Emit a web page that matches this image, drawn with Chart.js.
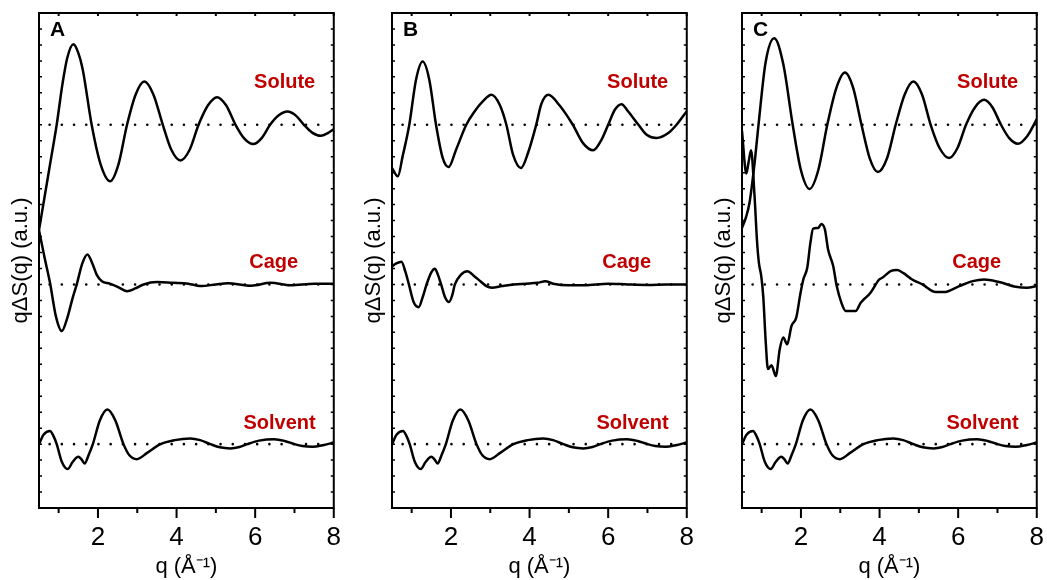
<!DOCTYPE html>
<html><head><meta charset="utf-8">
<script src="https://cdn.jsdelivr.net/npm/chart.js@4.4.1/dist/chart.umd.min.js"></script>
<style>
html,body{margin:0;padding:0;background:#fff;}
body{width:1047px;height:580px;position:relative;overflow:hidden;}
.panel{position:absolute;top:0;width:347px;height:580px;}
</style></head><body>
<div class="panel" style="left:0px"><canvas id="cA" width="347" height="580"></canvas></div>
<div class="panel" style="left:353px"><canvas id="cB" width="347" height="580"></canvas></div>
<div class="panel" style="left:703px"><canvas id="cC" width="347" height="580"></canvas></div>
<script>
// ---------- DATA ----------
const panelLetters = ['A', 'B', 'C'];
const traceNames = ['Solute', 'Cage', 'Solvent'];
const traceOffsets = [20, 10, 0];   // vertical offset of each trace (a.u.)
const xTickLabels = [2, 4, 6, 8];
const qRange = [0.5, 8];
const yRange = [-4, 27];
const baselineQ = [0.77, 7.8];

// [q, qΔS] pairs relative to each trace's dotted baseline
const soluteA = [[0.5,-6.6],[0.65,-4.4],[0.8,-2.2],[0.95,0],[1.1,2.6],[1.22,4.2],[1.375,5.04],[1.5,4.5],[1.61,3.5],[1.84,0],[2.07,-2.5],[2.31,-3.54],[2.52,-2.5],[2.74,0],[2.96,1.9],[3.18,2.71],[3.41,1.9],[3.65,0],[3.87,-1.58],[4.10,-2.23],[4.33,-1.58],[4.56,0],[4.8,1.22],[5.03,1.73],[5.26,1.22],[5.5,0],[5.72,-0.85],[5.95,-1.21],[6.16,-0.85],[6.38,0],[6.6,0.59],[6.82,0.83],[7.03,0.59],[7.24,0],[7.45,-0.49],[7.67,-0.69],[7.85,-0.52],[8.0,-0.28]];
const cageA = [[0.5,3.4],[0.64,1.7],[0.78,0.1],[0.93,-2.0],[1.08,-2.92],[1.22,-2.1],[1.35,-0.9],[1.46,0],[1.6,1.3],[1.73,1.875],[1.86,1.3],[1.97,0.6],[2.1,0.2],[2.3,0.05],[2.5,-0.15],[2.74,-0.42],[2.95,-0.25],[3.16,0],[3.5,0.15],[3.9,0.1],[4.3,0.05],[4.6,-0.1],[5.0,0],[5.3,0.07],[5.9,-0.08],[6.4,0.1],[6.9,-0.05],[7.5,0.05],[8.0,0.05]];
const soluteB = [[0.5,-2.7],[0.65,-3.23],[0.77,-1.98],[0.94,0],[1.11,2.81],[1.28,3.96],[1.45,2.81],[1.62,0],[1.79,-2.08],[1.94,-2.65],[2.13,-1.56],[2.39,0],[2.6,0.83],[2.81,1.46],[3.03,1.875],[3.24,1.25],[3.41,0],[3.58,-1.875],[3.78,-2.71],[3.96,-1.77],[4.17,0],[4.3,1.3],[4.48,1.875],[4.75,1.25],[5.1,0],[5.36,-1.15],[5.62,-1.6],[5.83,-0.94],[6.0,0],[6.17,0.94],[6.34,1.29],[6.51,0.83],[6.77,0],[6.98,-0.625],[7.23,-0.83],[7.53,-0.52],[7.74,0],[8.0,0.85]];
const cageB = [[0.5,1.14],[0.6,1.3],[0.74,1.42],[0.84,0.8],[0.93,0],[1.05,-1.1],[1.18,-1.42],[1.28,-0.8],[1.38,0],[1.5,0.75],[1.59,0.98],[1.67,0.6],[1.75,0],[1.85,-0.8],[1.95,-1.1],[2.03,-0.7],[2.1,0],[2.25,0.6],[2.42,0.83],[2.6,0.5],[2.75,0.2],[2.9,-0.1],[3.04,-0.2],[3.3,-0.1],[3.6,0],[3.9,0.05],[4.2,0.1],[4.4,0.2],[4.6,0.05],[5.0,-0.05],[5.4,-0.05],[6.0,0.05],[6.5,0],[7.0,-0.03],[7.5,0],[8.0,0]];
const soluteC = [[0.5,-6.46],[0.6,-5.8],[0.69,-4.9],[0.82,-2.4],[0.92,0],[1.1,3.9],[1.32,5.42],[1.55,3.8],[1.79,0],[2.0,-2.85],[2.22,-4.02],[2.44,-2.85],[2.67,0],[2.9,2.3],[3.12,3.27],[3.33,2.3],[3.54,0],[3.75,-2.1],[3.96,-2.96],[4.19,-2.1],[4.41,0],[4.64,1.9],[4.86,2.71],[5.08,1.9],[5.3,0],[5.53,-1.47],[5.77,-2.08],[5.98,-1.47],[6.2,0],[6.43,1.1],[6.66,1.56],[6.87,1.1],[7.09,0],[7.3,-0.84],[7.52,-1.19],[7.76,-0.7],[8.0,0.35]];
const cageC = [[0.5,9.6],[0.61,6.95],[0.67,7.7],[0.73,8.4],[0.82,5.5],[0.88,2.8],[0.93,1.35],[0.99,0.52],[1.04,-0.73],[1.1,-3.44],[1.16,-5.3],[1.25,-5.06],[1.36,-5.73],[1.46,-4.06],[1.55,-3.33],[1.65,-3.75],[1.76,-2.6],[1.88,-2.08],[1.99,-0.52],[2.06,0.31],[2.16,1.04],[2.24,2.6],[2.31,3.5],[2.44,3.54],[2.52,3.79],[2.61,3.44],[2.69,2.19],[2.82,1.15],[2.91,-0.1],[3.03,-1.15],[3.14,-1.67],[3.39,-1.67],[3.52,-1.15],[3.6,-0.94],[3.77,-0.52],[3.99,0.31],[4.07,0.42],[4.28,0.83],[4.45,0.9],[4.62,0.69],[4.83,0.31],[5.09,0],[5.43,-0.48],[5.64,-0.48],[6.03,-0.1],[6.37,0.21],[6.66,0.31],[7.04,0.15],[7.47,-0.15],[7.75,-0.21],[8.0,-0.1]];
const solvent = [[0.5,0],[0.62,0.6],[0.78,0.83],[0.87,0.5],[0.95,0],[1.08,-1.1],[1.23,-1.56],[1.36,-1.1],[1.5,-0.79],[1.58,-0.95],[1.66,-1.21],[1.76,-0.7],[1.87,0],[2.05,1.5],[2.24,2.17],[2.44,1.5],[2.65,0],[2.8,-0.7],[2.99,-0.94],[3.25,-0.55],[3.59,0],[3.95,0.25],[4.35,0.35],[4.6,0.25],[4.86,0],[5.1,-0.2],[5.37,-0.27],[5.6,-0.18],[5.8,0],[6.1,0.22],[6.48,0.31],[6.75,0.2],[7.0,0],[7.2,-0.12],[7.46,-0.17],[7.75,-0.05],[8.0,0.1]];

const panelTraces = [
  [soluteA, cageA, solvent],
  [soluteB, cageB, solvent],
  [soluteC, cageC, solvent]
];

// ---------- RENDER ----------
const FONT = '"Liberation Sans", Arial, Helvetica, sans-serif';
const labelAnchors = [[6.75, 22.67], [6.47, 11.4], [6.62, 1.31]]; // label positions in axis units

const frameTicks = {
  id: 'frameTicks',
  afterDraw(chart) {
    const {ctx, chartArea: a, scales: {x, y}} = chart;
    ctx.save();
    ctx.strokeStyle = '#000';
    ctx.lineWidth = 2;
    ctx.strokeRect(a.left, a.top, a.right - a.left, a.bottom - a.top);
    ctx.beginPath();
    for (let q = Math.ceil(x.min); q <= x.max; q++) {
      const px = x.getPixelForValue(q);
      const len = (q % 2 === 0) ? 10 : 5;
      ctx.moveTo(px, a.bottom); ctx.lineTo(px, a.bottom + len);
      ctx.moveTo(px, a.top); ctx.lineTo(px, a.top + 3);
    }
    ctx.stroke();
    ctx.lineWidth = 1.5;
    ctx.beginPath();
    for (let v = Math.ceil(y.min); v <= y.max; v++) {
      const py = y.getPixelForValue(v);
      ctx.moveTo(a.left, py); ctx.lineTo(a.left + 3, py);
      ctx.moveTo(a.right, py); ctx.lineTo(a.right - 3, py);
    }
    ctx.stroke();
    ctx.restore();
  }
};

const textLabels = {
  id: 'textLabels',
  afterDatasetsDraw(chart, args, opts) {
    const {ctx, chartArea: a, scales: {x, y}} = chart;
    ctx.save();
    ctx.font = 'bold 20px ' + FONT;
    ctx.fillStyle = '#c00000';
    ctx.textAlign = 'center';
    ctx.textBaseline = 'middle';
    traceNames.forEach((name, i) => {
      ctx.fillText(name, x.getPixelForValue(labelAnchors[i][0]), y.getPixelForValue(labelAnchors[i][1]));
    });
    ctx.fillStyle = '#000';
    ctx.font = 'bold 21px ' + FONT;
    ctx.textAlign = 'left';
    ctx.fillText(opts.letter, a.left + 11, a.top + 17);
    ctx.restore();
  }
};

function makeChart(canvasId, p) {
  const datasets = [];
  traceOffsets.forEach(off => {
    datasets.push({
      data: baselineQ.map(q => ({x: q, y: off})),
      borderColor: '#000', borderWidth: 2.6,
      borderDash: [0.01, 12.2], borderCapStyle: 'round',
      pointRadius: 0, tension: 0
    });
  });
  panelTraces[p].forEach((tr, i) => {
    datasets.push({
      label: traceNames[i],
      data: tr.map(d => ({x: d[0], y: d[1] + traceOffsets[i]})),
      borderColor: '#000', borderWidth: 2.5,
      pointRadius: 0, cubicInterpolationMode: 'monotone',
      borderJoinStyle: 'round', borderCapStyle: 'round'
    });
  });
  return new Chart(document.getElementById(canvasId), {
    type: 'line',
    data: {datasets},
    options: {
      responsive: false, animation: false, devicePixelRatio: 1,
      layout: {padding: {top: 13, right: 0, left: 0, bottom: 0}},
      plugins: {legend: {display: false}, tooltip: {enabled: false},
                textLabels: {letter: panelLetters[p]}},
      scales: {
        x: {
          type: 'linear', min: qRange[0], max: qRange[1],
          grid: {display: false}, border: {display: false},
          afterBuildTicks: s => { s.ticks = xTickLabels.map(v => ({value: v})); },
          ticks: {font: {family: FONT, size: 26}, color: '#000', padding: 6, maxRotation: 0,
                  callback: v => String(v)},
          title: {display: true, text: 'q (Å⁻¹)', color: '#000',
                  font: {family: FONT, size: 22}, padding: {top: 0, bottom: 0}},
          afterFit: s => { s.height = 72; }
        },
        y: {
          type: 'linear', min: yRange[0], max: yRange[1],
          grid: {display: false}, border: {display: false},
          ticks: {display: false},
          title: {display: true, text: 'qΔS(q) (a.u.)', color: '#000',
                  font: {family: FONT, size: 22}, padding: {top: 8, bottom: 0}},
          afterFit: s => { s.width = 39; }
        }
      }
    },
    plugins: [frameTicks, textLabels]
  });
}
makeChart('cA', 0);
makeChart('cB', 1);
makeChart('cC', 2);
</script>
</body></html>
